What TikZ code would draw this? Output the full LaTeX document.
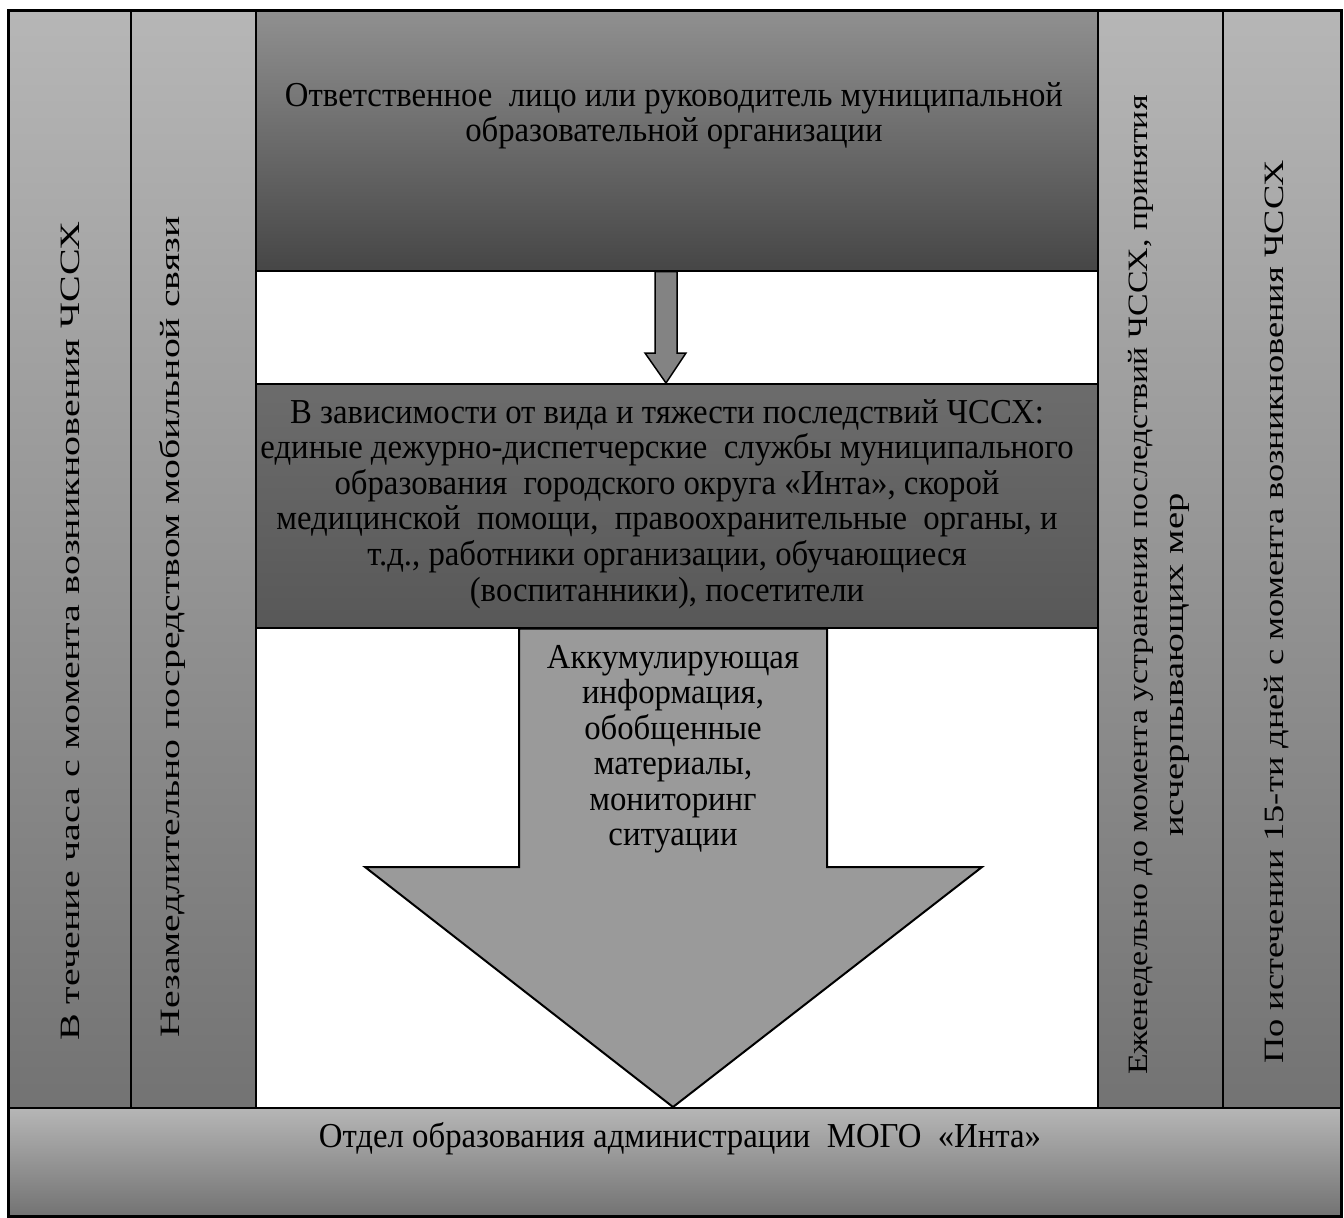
\documentclass[tikz,border=0pt]{standalone}
\usepackage{fontspec}
\setmainfont{Liberation Serif}
\newfontfamily\timesfont{Liberation Serif}
\usepackage{graphicx}
\usepackage{tikz}
\usetikzlibrary{calc}
\usetikzlibrary{positioning}

\definecolor{colTop}{HTML}{B6B6B6}
\definecolor{colLow}{HTML}{737373}
\definecolor{boxTop}{HTML}{909090}
\definecolor{boxLow}{HTML}{464646}
\definecolor{midTop}{HTML}{6C6C6C}
\definecolor{midLow}{HTML}{585858}
\definecolor{arrowGray}{HTML}{9A9A9A}

% tall, narrow lettering of the scanned original
\newcommand{\tallText}[1]{\scalebox{1.17}[1.25]{\begin{tabular}{@{}c@{}}#1\end{tabular}}}
\newcommand{\longText}[2][1.25]{\scalebox{#1}[1]{#2}}

\tikzset{
	panel/.style={draw=black, line width=1.5pt, rectangle, inner sep=0pt, anchor=north west},
	column/.style={panel, top color=colTop, bottom color=colLow},
	vlabel/.style={rotate=90, inner sep=0pt, font=\timesfont\fontsize{28}{28.4}\selectfont},
	hlabel/.style={inner sep=0pt, font=\timesfont\fontsize{28}{28.4}\selectfont},
	blockarrow/.style={draw=black, line width=2pt, fill=arrowGray, line join=miter}
}

\begin{document}
\begin{tikzpicture}[x=1pt,y=-1pt]
	\useasboundingbox (0,0) rectangle (1344,1218);
	\fill[white] (0,0) rectangle (1344,1218);
	
	% side columns
	\node[column, minimum width=122pt, minimum height=1097pt] (c1) at (8,10) {};
	\node[column, minimum width=125pt, minimum height=1097pt] (c2) at (130,10) {};
	\node[column, minimum width=125pt, minimum height=1097pt] (c3) at (1097,10) {};
	\node[column, minimum width=118pt, minimum height=1097pt] (c4) at (1222,10) {};
	
	% central boxes
	\node[panel, minimum width=842pt, minimum height=260pt, top color=boxTop, bottom color=boxLow] (top) at (255,10) {};
	\node[panel, minimum width=842pt, minimum height=244pt, top color=midTop, bottom color=midLow] (mid) at (255,383) {};
	\node[panel, minimum width=1332pt, minimum height=108pt, top color=colTop, bottom color=colLow] (dept) at (8,1107) {};
	
	% arrows
	\draw[blockarrow, line width=1.5pt, fill=arrowGray!85!black] (655,0 |- top.south) -- (655,353) -- (645,353)
	-- (666,0 |- mid.north) -- (686,353) -- (677,353) -- (677,0 |- top.south) -- cycle;
	\draw[blockarrow] (519,0 |- mid.south) -- (519,867) -- (365,867)
	-- (673,0 |- dept.north) -- (982,867) -- (827,867) -- (827,0 |- mid.south) -- cycle;
	
	% texts
	\node[hlabel] (topText) at (674,117) {\tallText{Ответственное\ \ лицо или руководитель муниципальной\\образовательной организации}};
	\node[hlabel] (midText) at (667,505) {\tallText{В зависимости от вида и тяжести последствий ЧССХ:\\
		единые дежурно-диспетчерские\ \ службы муниципального\\
		образования\ \ городского округа «Инта», скорой\\
		медицинской\ \ помощи,\ \ правоохранительные\ \ органы, и\\
		т.д., работники организации, обучающиеся\\
		(воспитанники), посетители}};
	\node[hlabel] (infoText) at (673,750) {\tallText{Аккумулирующая\\информация,\\обобщенные\\материалы,\\мониторинг\\ситуации}};
	\node[hlabel] (deptText) at (680,1140) {\tallText{Отдел образования администрации\ \ МОГО\ \ «Инта»}};
	
	\node[vlabel] (t1) at (70,631) {\longText[1.43]{В течение часа с момента возникновения ЧССХ}};
	\node[vlabel] (t2) at (172,627) {\longText[1.42]{Незамедлительно посредством мобильной связи}};
	\node[vlabel] (t3a) at (1141,585) {\longText[1.21]{Еженедельно до момента устранения последствий ЧССХ, принятия}};
	\node[vlabel] (t3b) at (1180,665) {\longText[1.38]{исчерпывающих мер}};
	\node[vlabel] (t4) at (1277,612) {\longText[1.3]{По истечении 15-ти дней с момента возникновения ЧССХ}};
	
	\draw[line width=2pt] (c1.north west) rectangle (dept.south east);
\end{tikzpicture}
\end{document}
